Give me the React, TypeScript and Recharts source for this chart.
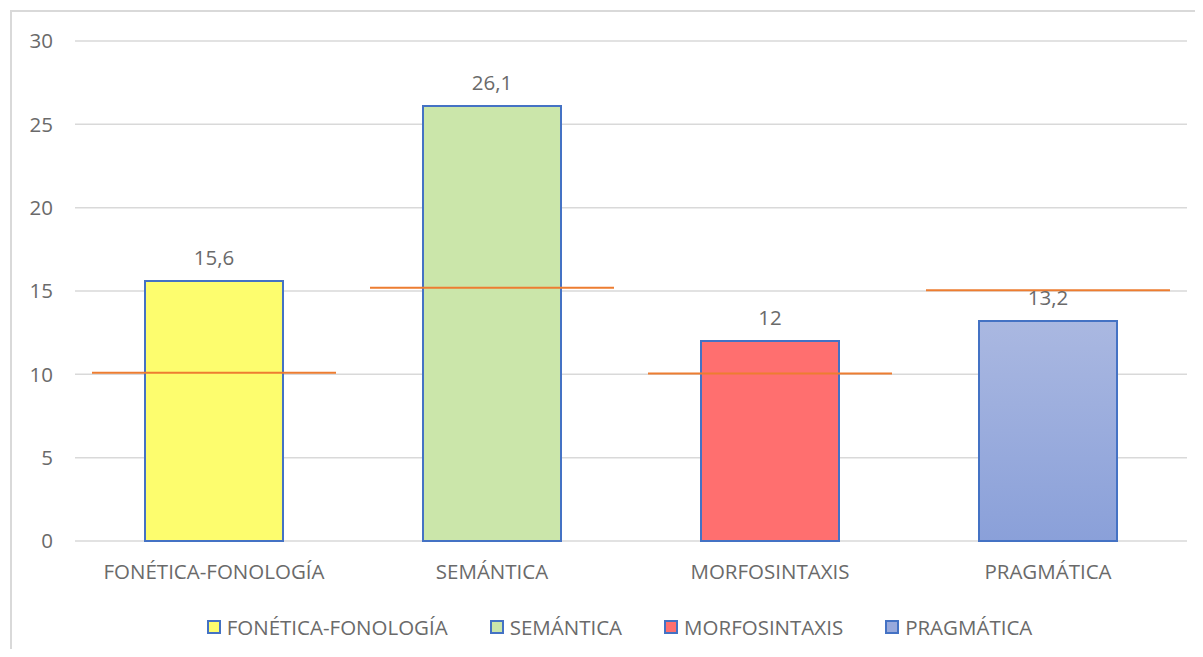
import { ComposedChart, Bar, Scatter, XAxis, YAxis, CartesianGrid, Cell, LabelList } from "recharts"

const categories = ["FONÉTICA-FONOLOGÍA", "SEMÁNTICA", "MORFOSINTAXIS", "PRAGMÁTICA"]
const values = [15.6, 26.1, 12, 13.2]
const targetValues = [10.1, 15.2, 10.05, 15.05]
const fills = ["#fdfd6e", "#cbe6aa", "#ff6f6f", "url(#pragGrad)"]
const legendFills = ["#fdfd6e", "#cbe6aa", "#ff6f6f", "#98a9dc"]
const yTicks = [0, 5, 10, 15, 20, 25, 30]

const data = categories.map((name, i) => ({ name, value: values[i], target: targetValues[i] }))

const FONT = "'Open Sans', sans-serif"
const TEXT = "#6a6a6a"

const TargetLine = (props: any) => {
  const { cx, cy } = props
  if (cx == null || cy == null) return null
  return <line x1={cx - 122} x2={cx + 122} y1={cy} y2={cy} stroke="#ed7d31" strokeWidth={2} />
}

export default function App() {
  return (
    <div style={{ position: "relative", width: 1203, height: 657, margin: -8, overflow: "hidden", background: "#fff", fontFamily: FONT }}>
      <div style={{ position: "absolute", left: 10, top: 10, width: 1210, height: 680, border: "2px solid #d9d9d9" }} />
      <div style={{ position: "absolute", left: 0, top: 0 }}>
        <ComposedChart width={1203} height={657} data={data} margin={{ top: 41, right: 16, left: 20, bottom: 0 }}>
          <defs>
            <linearGradient id="pragGrad" x1="0" y1="0" x2="0" y2="1">
              <stop offset="0%" stopColor="#aab8e1" />
              <stop offset="100%" stopColor="#8aa0d9" />
            </linearGradient>
          </defs>
          <CartesianGrid vertical={false} stroke="#d9d9d9" strokeWidth={1.5} />
          <XAxis
            dataKey="name"
            height={116}
            axisLine={false}
            tickLine={false}
            tickSize={0}
            tickMargin={23}
            tick={{ fill: TEXT, fontSize: 20.5, fontFamily: FONT }}
            interval={0}
          />
          <YAxis
            width={55}
            domain={[0, 30]}
            ticks={yTicks}
            axisLine={false}
            tickLine={false}
            tickSize={0}
            tickMargin={22}
            tick={{ fill: TEXT, fontSize: 20.5, fontFamily: FONT }}
          />
          <Bar dataKey="value" barSize={138} stroke="#4472c4" strokeWidth={2} isAnimationActive={false}>
            {data.map((d, i) => (
              <Cell key={d.name} fill={fills[i]} />
            ))}
            <LabelList
              dataKey="value"
              position="top"
              offset={16}
              fill={TEXT}
              fontSize={20.5}
              fontFamily={FONT}
              formatter={(v: any) => String(v).replace(".", ",")}
            />
          </Bar>
          <Scatter dataKey="target" shape={TargetLine} isAnimationActive={false} />
        </ComposedChart>
      </div>
      <div
        style={{
          position: "absolute",
          left: 18,
          top: 613,
          width: 1203,
          display: "flex",
          justifyContent: "center",
          gap: 42,
          color: TEXT,
          fontSize: 20.5,
          lineHeight: "28px",
        }}
      >
        {categories.map((c, i) => (
          <div key={c} style={{ display: "flex", alignItems: "center", gap: 6 }}>
            <span style={{ width: 10, height: 10, background: legendFills[i], border: "2px solid #4472c4", display: "inline-block" }} />
            <span>{c}</span>
          </div>
        ))}
      </div>
    </div>
  )
}
